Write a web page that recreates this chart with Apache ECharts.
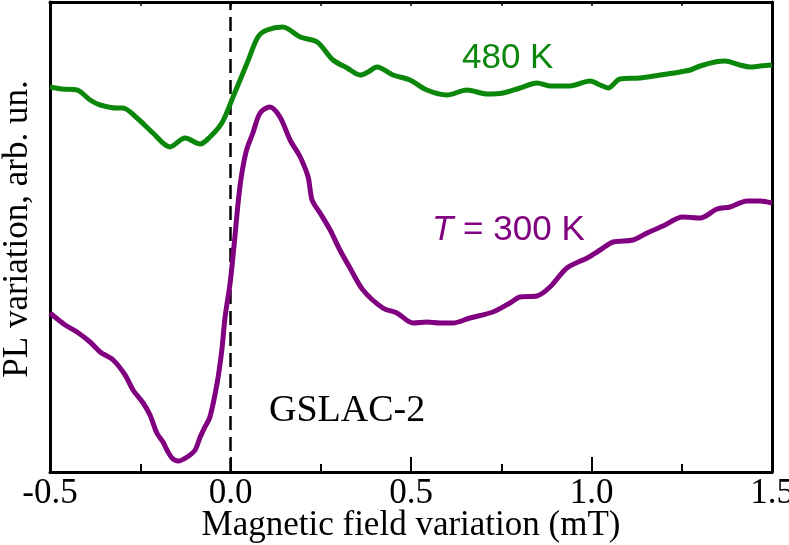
<!DOCTYPE html>
<html>
<head>
<meta charset="utf-8">
<script src="https://cdn.jsdelivr.net/npm/echarts@6/dist/echarts.min.js"></script>
<style>html,body{margin:0;padding:0;background:#fff}#c{width:789px;height:545px}</style>
</head>
<body>
<div id="c"></div>
<script>
// Magnetic field variation (mT) and PL variation (arb. un.)
const greenX = [-0.5,-0.467,-0.425,-0.389,-0.361,-0.314,-0.298,-0.259,-0.215,-0.168,-0.126,-0.084,-0.057,-0.024,0.007,0.046,0.076,0.101,0.145,0.193,0.240,0.284,0.323,0.359,0.381,0.406,0.450,0.497,0.544,0.600,0.655,0.711,0.755,0.802,0.849,0.885,0.940,0.996,1.024,1.046,1.079,1.134,1.190,1.245,1.273,1.301,1.342,1.370,1.411,1.439,1.467,1.5];
const greenY = [385,383,382,372,367,364,364,354,339,325,334,328,335,349,375,409,435,442,445,435,430,412,404,397,400,405,397,392,382,377,382,378,379,384,389,386,386,391,387,384,393,394,397,400,402,406,410,411,407,405,406,407];
const purpleX = [-0.5,-0.458,-0.425,-0.389,-0.361,-0.325,-0.292,-0.270,-0.242,-0.223,-0.204,-0.187,-0.176,-0.162,-0.145,-0.120,-0.098,-0.084,-0.071,-0.057,-0.037,-0.024,-0.015,-0.001,0.010,0.026,0.043,0.062,0.082,0.109,0.137,0.165,0.193,0.215,0.226,0.248,0.276,0.303,0.331,0.367,0.422,0.461,0.506,0.544,0.580,0.616,0.663,0.727,0.774,0.802,0.849,0.885,0.932,0.988,1.024,1.060,1.115,1.154,1.198,1.253,1.301,1.348,1.384,1.431,1.467,1.5];
const purpleY = [159,147,140,130,120,112,97,82,69,57,39,30,22,14,11,15,22,35,45,55,89,122,155,189,227,285,320,339,359,365,355,332,315,295,272,259,242,222,204,182,164,159,149,150,149,149,154,160,169,175,176,185,204,214,222,230,232,239,246,255,254,263,265,271,271,269];
const xTicks = [-0.5, 0.0, 0.5, 1.0, 1.5];
const zeroFieldX = 0;
const yRange = [0, 470];
const labels = {green: '480 K', purple: '= 300 K', sample: 'GSLAC-2'};

const zip = (xs, ys) => xs.map((x, i) => [x, ys[i]]);
const serif = '"Liberation Serif", "Times New Roman", serif';
const sans = '"Liberation Sans", Arial, sans-serif';

const chart = echarts.init(document.getElementById('c'), null, {renderer: 'canvas'});
chart.setOption({
  animation: false,
  backgroundColor: '#fff',
  grid: {left: 50, right: 17, top: 2, bottom: 73, containLabel: false, outerBoundsMode: 'none'},
  xAxis: [{
    type: 'value', position: 'bottom',
    min: xTicks[0], max: xTicks[xTicks.length - 1], interval: 0.5,
    axisLine: {onZero: false, lineStyle: {color: '#000', width: 3}},
    axisTick: {inside: true, length: 15, lineStyle: {color: '#000', width: 2}},
    minorTick: {show: true, splitNumber: 2, length: 8, lineStyle: {color: '#000', width: 2}},
    splitLine: {show: false},
    axisLabel: {color: '#000', fontFamily: serif, fontSize: 35, margin: 4,
      formatter: v => v.toFixed(1)},
    name: 'Magnetic field variation (mT)', nameLocation: 'middle', nameGap: 36,
    nameMoveOverlap: false,
    nameTextStyle: {color: '#000', fontFamily: serif, fontSize: 35}
  }, {
    type: 'value', position: 'top',
    min: xTicks[0], max: xTicks[xTicks.length - 1], interval: 0.25,
    axisLine: {onZero: false, lineStyle: {color: '#000', width: 3}},
    axisTick: {inside: true, length: 4, lineStyle: {color: '#000', width: 1.5}},
    splitLine: {show: false}, axisLabel: {show: false}
  }],
  yAxis: [{
    type: 'value', position: 'left', min: yRange[0], max: yRange[1],
    axisLine: {show: true, onZero: false, lineStyle: {color: '#000', width: 3}},
    axisTick: {show: false}, axisLabel: {show: false}, splitLine: {show: false},
    name: 'PL variation, arb. un.', nameLocation: 'middle', nameGap: 15,
    nameMoveOverlap: false,
    nameTextStyle: {color: '#000', fontFamily: serif, fontSize: 35, padding: [0, 0, 0, 16]}
  }, {
    type: 'value', position: 'right', min: yRange[0], max: yRange[1],
    axisLine: {show: true, onZero: false, lineStyle: {color: '#000', width: 3}},
    axisTick: {show: false}, axisLabel: {show: false}, splitLine: {show: false}
  }],
  series: [{
    type: 'line', data: [[zeroFieldX, yRange[0]], [zeroFieldX, yRange[1]]],
    symbol: 'none', lineStyle: {color: '#000', width: 2.5, type: [14, 7]}, z: 1
  }, {
    type: 'line', data: zip(greenX, greenY), symbol: 'none', smooth: 0.3,
    lineStyle: {color: '#0b870b', width: 5}, z: 3
  }, {
    type: 'line', data: zip(purpleX, purpleY), symbol: 'none', smooth: 0.3,
    lineStyle: {color: '#800080', width: 5}, z: 3
  }],
  graphic: [{
    type: 'text', x: 462, y: 58,
    style: {text: labels.green, font: '35px ' + sans, fill: '#0b870b', verticalAlign: 'middle'}
  }, {
    type: 'text', x: 432, y: 230,
    style: {
      text: '{i|T} ' + labels.purple, fill: '#800080', verticalAlign: 'middle',
      font: '35px ' + sans,
      rich: {i: {fontStyle: 'italic', fontFamily: sans, fontSize: 35, fill: '#800080', color: '#800080'}}
    }
  }, {
    type: 'text', x: 269, y: 411,
    style: {text: labels.sample, font: '38px ' + serif, fill: '#000', verticalAlign: 'middle'}
  }]
});
</script>
</body>
</html>
